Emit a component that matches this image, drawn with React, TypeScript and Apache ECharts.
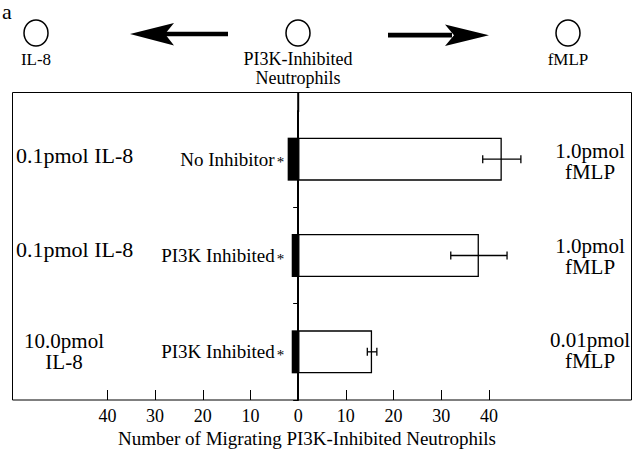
import React, { useEffect, useRef } from 'react';
import * as echarts from 'echarts';

const categories = ['No Inhibitor', 'PI3K Inhibited', 'PI3K Inhibited'];
const towardIL8 = [-2.2, -1.35, -1.35];
const towardFMLP = [42.7, 37.9, 15.5];
const fmlpError = [4.0, 5.9, 1.0];
const tickValues = [-40, -30, -20, -10, 0, 10, 20, 30, 40];
const il8Labels = ['0.1pmol IL-8', '0.1pmol IL-8', '10.0pmol\nIL-8'];
const fmlpLabels = ['1.0pmol\nfMLP', '1.0pmol\nfMLP', '0.01pmol\nfMLP'];
const axisTitle = 'Number of Migrating PI3K-Inhibited Neutrophils';

const FONT = 'Liberation Serif';
const INK = '#000';

function txt(text: string, x: number, y: number, size: number, align = 'center') {
  return {
    type: 'text',
    x,
    y,
    silent: true,
    style: {
      text,
      fontSize: size,
      fontFamily: FONT,
      fill: INK,
      textAlign: align,
      textVerticalAlign: 'middle',
    },
  };
}

function multi(text: string, x: number, y: number, size: number, gap: number, align = 'center') {
  const lines = text.split('\n');
  const start = y - ((lines.length - 1) * gap) / 2;
  return lines.map((l, k) => txt(l, x, start + k * gap, size, align));
}

export default function App() {
  const ref = useRef<HTMLDivElement>(null);

  useEffect(() => {
    if (!ref.current) return;
    const chart = echarts.init(ref.current, undefined, { renderer: 'svg' });

    const errData = categories.map((_, i) => [i, towardFMLP[i] - fmlpError[i], towardFMLP[i] + fmlpError[i]]);

    const leftY = [155, 249, 351];
    const rightY = [161, 256, 350];

    const graphic: any[] = [
      {
        type: 'rect',
        silent: true,
        shape: { x: 12.5, y: 92.5, width: 619, height: 307.5 },
        style: { fill: 'none', stroke: INK, lineWidth: 1 },
      },
      {
        type: 'line',
        silent: true,
        shape: { x1: 298.2, y1: 92, x2: 298.2, y2: 112 },
        style: { stroke: INK, lineWidth: 2 },
      },
      txt('a', 2, 11, 22, 'left'),
      { type: 'ellipse', silent: true, shape: { cx: 36, cy: 33, rx: 12, ry: 13 }, style: { fill: '#fff', stroke: INK, lineWidth: 1.5 } },
      { type: 'ellipse', silent: true, shape: { cx: 298, cy: 33, rx: 12, ry: 13 }, style: { fill: '#fff', stroke: INK, lineWidth: 1.5 } },
      { type: 'ellipse', silent: true, shape: { cx: 568, cy: 33, rx: 12, ry: 13 }, style: { fill: '#fff', stroke: INK, lineWidth: 1.5 } },
      { type: 'rect', silent: true, shape: { x: 160, y: 31.7, width: 68, height: 4.6 }, style: { fill: INK } },
      { type: 'polygon', silent: true, shape: { points: [[130, 34], [174, 23], [165, 34], [174, 45.5]] }, style: { fill: INK } },
      { type: 'rect', silent: true, shape: { x: 388, y: 32.8, width: 64, height: 4.6 }, style: { fill: INK } },
      { type: 'polygon', silent: true, shape: { points: [[489, 35.2], [445, 24.5], [454, 35.2], [445, 46]] }, style: { fill: INK } },
      txt('IL-8', 36, 59, 17),
      txt('PI3K-Inhibited', 298, 59, 18),
      txt('Neutrophils', 298, 78, 18),
      txt('fMLP', 568, 59, 17),
      txt(axisTitle, 307, 438, 19),
    ];
    il8Labels.forEach((t, i) => {
      if (t.includes('\n')) graphic.push(...multi(t, 64, leftY[i], 21, 21));
      else graphic.push(txt(t, 16, leftY[i], 22, 'left'));
    });
    fmlpLabels.forEach((t, i) => {
      graphic.push(...multi(t, 590, rightY[i], 21, 21));
    });

    chart.setOption({
      animation: false,
      backgroundColor: '#fff',
      grid: { left: 12, right: 8, top: 111, bottom: 51, containLabel: false, outerBoundsMode: 'none' },
      xAxis: {
        type: 'value',
        min: -60,
        max: 70,
        interval: 10,
        splitLine: { show: false },
        axisLine: { show: false },
        axisTick: {
          show: true,
          customValues: tickValues,
          inside: true,
          length: 10,
          lineStyle: { color: INK, width: 1 },
        },
        axisLabel: {
          customValues: tickValues,
          formatter: (v: number) => String(Math.abs(v)),
          fontSize: 18,
          fontFamily: FONT,
          color: INK,
          margin: 7,
        },
      },
      yAxis: {
        type: 'category',
        inverse: true,
        data: categories,
        axisLine: { show: true, onZero: true, lineStyle: { color: INK, width: 2 } },
        axisTick: {
          show: true,
          length: 5,
          interval: (i: number) => i !== 0,
          lineStyle: { color: INK, width: 1 },
        },
        splitLine: { show: false },
        axisLabel: { show: false },
      },
      series: [
        {
          type: 'bar',
          name: 'IL-8',
          data: towardIL8,
          barWidth: 43,
          barGap: '-100%',
          itemStyle: { color: INK },
          z: 3,
        },
        {
          type: 'bar',
          name: 'fMLP',
          data: towardFMLP,
          barWidth: 43,
          barGap: '-100%',
          itemStyle: { color: '#fff', borderColor: INK, borderWidth: 1.3 },
          z: 2,
          label: {
            show: true,
            position: [-14, '50%'],
            align: 'right',
            verticalAlign: 'middle',
            formatter: (p: any) => `{n|${categories[p.dataIndex]}}{s|*}`,
            rich: {
              n: { fontSize: 19, fontFamily: FONT, color: INK },
              s: { fontSize: 15, fontFamily: FONT, color: INK, padding: [6, 0, 0, 2] },
            },
          },
        },
        {
          type: 'custom',
          name: 'error',
          data: errData,
          encode: { y: 0, x: [1, 2] },
          z: 4,
          renderItem: (params: any, api: any) => {
            const idx = api.value(0);
            const lo = api.coord([api.value(1), idx]);
            const hi = api.coord([api.value(2), idx]);
            const h = 4;
            const st = { stroke: INK, lineWidth: 1.3 };
            return {
              type: 'group',
              children: [
                { type: 'line', shape: { x1: lo[0], y1: lo[1], x2: hi[0], y2: hi[1] }, style: st },
                { type: 'line', shape: { x1: lo[0], y1: lo[1] - h, x2: lo[0], y2: lo[1] + h }, style: st },
                { type: 'line', shape: { x1: hi[0], y1: hi[1] - h, x2: hi[0], y2: hi[1] + h }, style: st },
              ],
            };
          },
        },
      ],
      graphic,
    });

    return () => chart.dispose();
  }, []);

  return <div ref={ref} style={{ position: 'fixed', left: 0, top: 0, width: 640, height: 451 }} />;
}
